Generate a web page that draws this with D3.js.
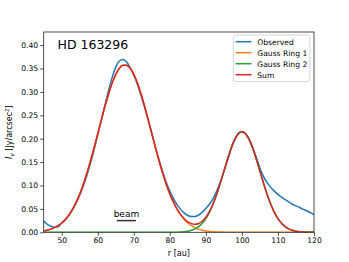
<!DOCTYPE html>
<html><head><meta charset="utf-8">
<script src="https://cdn.jsdelivr.net/npm/d3@7/dist/d3.min.js"></script>
<style>
html,body{margin:0;padding:0;background:#fff;}
svg{display:block;font-family:"DejaVu Sans",sans-serif;}
</style></head>
<body>
<svg id="chart" width="349" height="262"></svg>
<script>
// radius samples [au]
const radius = d3.range(45, 121, 1);
const observed = [0.024,0.017,0.013,0.011,0.012,0.020,0.027,0.036,0.048,0.062,
  0.079,0.099,0.122,0.148,0.177,0.208,0.240,0.272,0.303,0.331,
  0.353,0.366,0.369,0.364,0.352,0.336,0.316,0.292,0.267,0.240,
  0.211,0.182,0.155,0.130,0.107,0.088,0.072,0.059,0.049,0.041,
  0.036,0.0335,0.034,0.037,0.043,0.051,0.060,0.072,0.088,0.107,
  0.130,0.154,0.178,0.198,0.211,0.215,0.211,0.199,0.181,0.160,
  0.137,0.119,0.106,0.096,0.088,0.081,0.075,0.070,0.065,0.060,
  0.0565,0.053,0.049,0.046,0.042,0.038];
const ring1 = [0.0030,0.0046,0.0068,0.0099,0.0142,0.0199,0.0275,0.0371,0.0493,0.0642,
  0.0820,0.1028,0.1266,0.1528,0.1811,0.2106,0.2403,0.2692,0.2957,0.3189,
  0.3375,0.3505,0.3572,0.3572,0.3505,0.3375,0.3189,0.2957,0.2692,0.2403,
  0.2106,0.1811,0.1528,0.1266,0.1028,0.0820,0.0642,0.0493,0.0371,0.0275,
  0.0199,0.0142,0.0099,0.0068,0.0046,0.0030,0.0020,0.0012,0.0008,0.0005,
  0.0003,0.0002,0.0001,0,0,0,0,0,0,0,
  0,0,0,0,0,0,0,0,0,0,
  0,0,0,0,0,0];
const ring2 = [0,0,0,0,0,0,0,0,0,0,
  0,0,0,0,0,0,0,0,0,0,
  0,0,0,0,0,0,0,0,0,0,
  0,0,0,0,0,0.0001,0.0002,0.0003,0.0007,0.0013,
  0.0024,0.0043,0.0073,0.0121,0.0191,0.0291,0.0426,0.0598,0.0807,0.1047,
  0.1304,0.1561,0.1796,0.1985,0.2107,0.2150,0.2107,0.1985,0.1796,0.1561,
  0.1304,0.1047,0.0807,0.0598,0.0426,0.0291,0.0191,0.0121,0.0073,0.0043,
  0.0024,0.0013,0.0007,0.0003,0.0002,0.0001];
const sumFit = [0.0030,0.0046,0.0068,0.0099,0.0142,0.0199,0.0275,0.0371,0.0493,0.0642,
  0.0820,0.1028,0.1266,0.1528,0.1811,0.2106,0.2403,0.2692,0.2957,0.3189,
  0.3375,0.3505,0.3572,0.3572,0.3505,0.3375,0.3189,0.2957,0.2692,0.2403,
  0.2106,0.1811,0.1528,0.1266,0.1028,0.0821,0.0644,0.0496,0.0378,0.0288,
  0.0223,0.0185,0.0172,0.0189,0.0237,0.0321,0.0446,0.0610,0.0815,0.1052,
  0.1307,0.1563,0.1797,0.1985,0.2107,0.2150,0.2107,0.1985,0.1796,0.1561,
  0.1304,0.1047,0.0807,0.0598,0.0426,0.0291,0.0191,0.0121,0.0073,0.0043,
  0.0024,0.0013,0.0007,0.0003,0.0002,0.0001];
const seriesNames = ["Observed","Gauss Ring 1","Gauss Ring 2","Sum"];
const seriesColors = ["#1f77b4","#ff7f0e","#2ca02c","#d62728"];
const xTicks = [50,60,70,80,90,100,110,120];
const yTicks = [0,0.05,0.10,0.15,0.20,0.25,0.30,0.35,0.40];
const xDomain = [45,120];
const yDomain = [0,0.428];
const beamRange = [65.3,70.6];
const beamLevel = 0.025;
const title = "HD 163296";

const svg = d3.select("#chart");
const L=43.7, R=314, T=32, B=232.3;
const x = d3.scaleLinear().domain(xDomain).range([L,R]);
const y = d3.scaleLinear().domain(yDomain).range([B,T]);

svg.append("clipPath").attr("id","clp").append("rect")
  .attr("x",L).attr("y",T).attr("width",R-L).attr("height",B-T);

const allSeries = [observed, ring1, ring2, sumFit];
const line = d3.line().x((d,i)=>x(radius[i])).y(d=>y(d)).curve(d3.curveMonotoneX);
const g = svg.append("g").attr("clip-path","url(#clp)");
allSeries.forEach((s,k)=>{
  g.append("path").datum(s).attr("d",line).attr("fill","none")
   .attr("stroke",seriesColors[k]).attr("stroke-width",1.5);
});

// beam
svg.append("line").attr("x1",x(beamRange[0])).attr("x2",x(beamRange[1]))
  .attr("y1",y(beamLevel)).attr("y2",y(beamLevel)).attr("stroke","#333").attr("stroke-width",1.5);
svg.append("text").attr("x",x((beamRange[0]+beamRange[1])/2)).attr("y",y(0.033))
  .attr("text-anchor","middle").attr("font-size",9).attr("fill","#000").text("beam");

// axes
const xAxis = d3.axisBottom(x).tickValues(xTicks).tickSize(3.5).tickPadding(2).tickFormat(d3.format("d"));
const yAxis = d3.axisLeft(y).tickValues(yTicks).tickSize(3.5).tickPadding(2).tickFormat(d3.format(".2f"));
const gx = svg.append("g").attr("transform",`translate(0,${B})`).call(xAxis);
const gy = svg.append("g").attr("transform",`translate(${L},0)`).call(yAxis);
[gx,gy].forEach(a=>{
  a.select(".domain").remove();
  a.selectAll("line").attr("stroke","#222").attr("stroke-width",0.8);
  a.selectAll("text").attr("font-size",7.6).attr("fill","#000").attr("font-family","DejaVu Sans");
});
svg.append("rect").attr("x",L).attr("y",T).attr("width",R-L).attr("height",B-T)
  .attr("fill","none").attr("stroke","#222").attr("stroke-width",0.8);

// labels
svg.append("text").attr("x",(L+R)/2).attr("y",255.5).attr("text-anchor","middle")
  .attr("font-size",8).text("r [au]");
const yl = svg.append("text").attr("transform",`translate(12,${(T+B)/2}) rotate(-90)`)
  .attr("text-anchor","middle").attr("font-size",8);
yl.append("tspan").attr("font-style","italic").text("I");
yl.append("tspan").attr("font-style","italic").attr("font-size",6).attr("dy",1.5).text("ν");
yl.append("tspan").attr("dy",-1.5).text(" [Jy/arcsec");
yl.append("tspan").attr("font-size",5.5).attr("dy",-3).text("2");
yl.append("tspan").attr("dy",3).text("]");

svg.append("text").attr("x",57.5).attr("y",48.5).attr("font-size",12.5).text(title);

// legend
const lg = svg.append("g");
lg.append("rect").attr("x",233.3).attr("y",35).attr("width",76.5).attr("height",46.5)
  .attr("rx",2).attr("fill","#fff").attr("fill-opacity",0.8).attr("stroke","#ccc").attr("stroke-width",0.8);
seriesNames.forEach((n,k)=>{
  const yy = 41.7 + k*11;
  lg.append("line").attr("x1",235.5).attr("x2",251.5).attr("y1",yy).attr("y2",yy)
    .attr("stroke",seriesColors[k]).attr("stroke-width",1.5);
  lg.append("text").attr("x",257.3).attr("y",yy+2.8).attr("font-size",7.6).text(n);
});
</script>
</body></html>
